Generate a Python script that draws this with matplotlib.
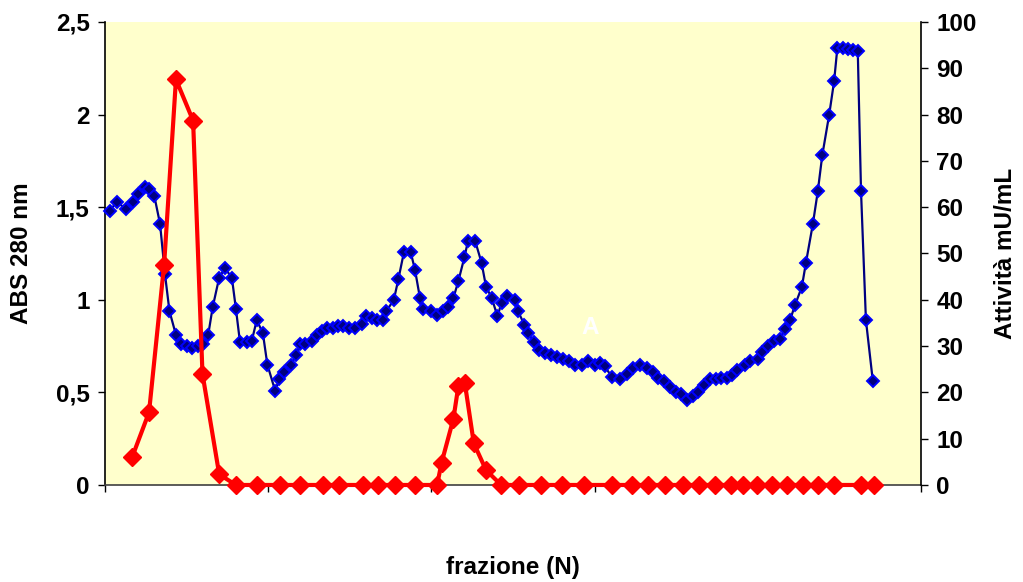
import matplotlib
matplotlib.use("Agg")
import matplotlib.pyplot as plt
from matplotlib.ticker import FixedLocator, FuncFormatter

plt.rcParams['font.family'] = ['Liberation Sans', 'DejaVu Sans']

# Absorbance at 280 nm per fraction
abs_frac = [1.2, 2.9, 5.1, 6.9, 8.0, 9.8, 10.8, 12.1, 13.5, 14.7, 15.8, 17.4, 18.6, 20.0,
            21.3, 22.7, 24.1, 25.3, 26.4, 28.0, 29.4, 31.1, 32.1, 33.1, 34.7, 36.0, 37.2,
            38.7, 39.8, 41.7, 42.7, 43.9, 45.6, 46.8, 47.8, 49.0, 50.7, 52.0, 53.1, 54.3,
            55.8, 57.2, 58.4, 59.9, 61.3, 62.9, 64.0, 65.4, 66.7, 68.1, 69.0, 70.8, 71.9,
            73.3, 74.9, 76.0, 77.2, 78.0, 79.8, 81.3, 82.8, 84.1, 85.4, 86.6, 88.1, 89.0,
            90.7, 92.3, 93.4, 94.8, 96.2, 97.2, 98.6, 100.5, 101.2, 102.8, 103.8, 105.1,
            106.4, 107.8, 109.3, 110.7, 112.2, 113.8, 115.2, 116.8, 118.5, 120.1, 121.3,
            122.5, 124.2, 126.2, 127.9, 129.3, 131.1, 132.8, 134.2, 135.6, 137.0, 138.5,
            140.0, 141.3, 142.6, 144.0, 145.4, 146.8, 148.3, 149.8, 151.0, 152.4, 153.6,
            155.0, 156.9, 158.1, 160.1, 161.0, 162.6, 164.0, 165.4, 166.7, 167.9, 169.1,
            170.8, 171.8, 173.5, 174.7, 175.8, 177.5, 178.7, 179.5, 180.9, 182.2, 183.4,
            184.5, 185.3, 186.5, 188.2]
abs_280 = [1.48, 1.53, 1.49, 1.53, 1.57, 1.61, 1.60, 1.56, 1.41, 1.14, 0.94, 0.81, 0.76, 0.75,
           0.74, 0.75, 0.76, 0.81, 0.96, 1.12, 1.17, 1.12, 0.95, 0.77, 0.77, 0.78, 0.89,
           0.82, 0.65, 0.51, 0.57, 0.61, 0.65, 0.70, 0.76, 0.76, 0.78, 0.81, 0.83, 0.85,
           0.85, 0.86, 0.86, 0.85, 0.85, 0.87, 0.91, 0.90, 0.89, 0.89, 0.94, 1.00, 1.11,
           1.26, 1.26, 1.16, 1.01, 0.95, 0.94, 0.92, 0.94, 0.96, 1.01, 1.10, 1.23, 1.32,
           1.32, 1.20, 1.07, 1.01, 0.91, 0.985, 1.02, 1.00, 0.94, 0.865, 0.82, 0.77,
           0.73, 0.71, 0.70, 0.69, 0.68, 0.67, 0.65, 0.65, 0.67, 0.65, 0.66,
           0.64, 0.585, 0.57, 0.60, 0.63, 0.65, 0.63, 0.61, 0.58, 0.56, 0.53,
           0.50, 0.49, 0.46, 0.48, 0.50, 0.54, 0.57, 0.57, 0.58, 0.58, 0.595,
           0.62, 0.65, 0.67, 0.68, 0.72, 0.75, 0.775, 0.79, 0.84, 0.89, 0.97,
           1.07, 1.20, 1.41, 1.585, 1.78, 2.00, 2.18, 2.36, 2.36, 2.355, 2.35,
           2.345, 1.585, 0.89, 0.56]

# Enzyme activity (mU/mL) per fraction
act_frac = [6.7, 10.8, 14.5, 17.4, 21.6, 23.9, 28.0, 32.1, 37.2, 42.9, 47.8, 53.5, 57.4,
            63.3, 67.0, 71.1, 76.0, 81.4, 82.5, 85.4, 86.6, 88.2, 90.4, 93.4, 97.1, 101.5,
            106.8, 111.9, 117.4, 124.2, 129.1, 133.2, 137.3, 141.7, 145.7, 149.5, 153.4,
            156.4, 159.8, 163.5, 167.2, 171.1, 174.8, 178.7, 185.3, 188.5]
activity = [6.1, 15.7, 47.6, 87.6, 78.7, 24.0, 2.3, 0, 0, 0, 0, 0, 0,
            0, 0, 0, 0, 0, 4.8, 14.3, 21.3, 22.0, 9.0, 3.2, 0, 0,
            0, 0, 0, 0, 0, 0, 0, 0, 0, 0, 0,
            0, 0, 0, 0, 0, 0, 0, 0, 0]

left_ticks = [0, 0.5, 1, 1.5, 2, 2.5]
right_ticks = [0, 10, 20, 30, 40, 50, 60, 70, 80, 90, 100]
x_ticks = [0, 40, 80, 120, 160, 200]

FS = 17.5

fig = plt.figure(figsize=(10.23, 5.82), dpi=100)
ax = fig.add_axes([0.1026, 0.1667, 0.7977, 0.7955])
ax.set_facecolor('#FFFFCC')

ax.plot(abs_frac, abs_280, color='#000080', lw=1.6, marker='D', markersize=6.5,
        markerfacecolor='#000080', markeredgecolor='#0000FF', markeredgewidth=1.4,
        clip_on=False, zorder=3)

ax.set_xlim(0, 200)
ax.set_ylim(0, 2.5)
ax.xaxis.set_major_locator(FixedLocator(x_ticks))
ax.set_xticklabels([])
ax.yaxis.set_major_locator(FixedLocator(left_ticks))
ax.yaxis.set_major_formatter(FuncFormatter(lambda v, p: ('%g' % v).replace('.', ',')))
ax.tick_params(axis='both', direction='out', length=5, width=1, colors='black',
               labelsize=FS, pad=6)
for lab in ax.get_yticklabels():
    lab.set_fontweight('bold')
ax.spines['top'].set_visible(False)
ax.spines['right'].set_visible(False)
for s in ('left', 'bottom'):
    ax.spines[s].set_linewidth(1.2)
ax.spines['bottom'].set_color('#404040')

ax.set_ylabel('ABS 280 nm', fontsize=FS, fontweight='bold')
ax.yaxis.set_label_coords(-0.102, 0.5)
ax.set_xlabel('frazione (N)', fontsize=FS, fontweight='bold')
ax.xaxis.set_label_coords(0.5, -0.179)
ax.xaxis.label.set_va('center')

ax.text(119, 0.85, 'A', color='white', fontsize=FS, fontweight='bold',
        ha='center', va='center', zorder=2)

ax2 = ax.twinx()
ax2.plot(act_frac, activity, color='#FF0000', lw=3.0, marker='D', markersize=9.5,
         markerfacecolor='#FF0000', markeredgecolor='#FF0000', clip_on=False, zorder=4)
ax2.set_ylim(0, 100)
ax2.set_xlim(0, 200)
ax2.yaxis.set_major_locator(FixedLocator(right_ticks))
ax2.tick_params(axis='y', direction='out', length=5, width=1, labelsize=FS, pad=6)
for lab in ax2.get_yticklabels():
    lab.set_fontweight('bold')
ax2.spines['top'].set_visible(False)
ax2.spines['left'].set_visible(False)
ax2.spines['bottom'].set_visible(False)
ax2.spines['right'].set_linewidth(1.2)
ax2.set_ylabel('Attività mU/mL', fontsize=FS, fontweight='bold')
ax2.yaxis.set_label_coords(1.103, 0.5)
ax2.yaxis.label.set_va('center')
ax.yaxis.label.set_va('center')

fig.savefig('out.png', dpi=100, facecolor='white')
